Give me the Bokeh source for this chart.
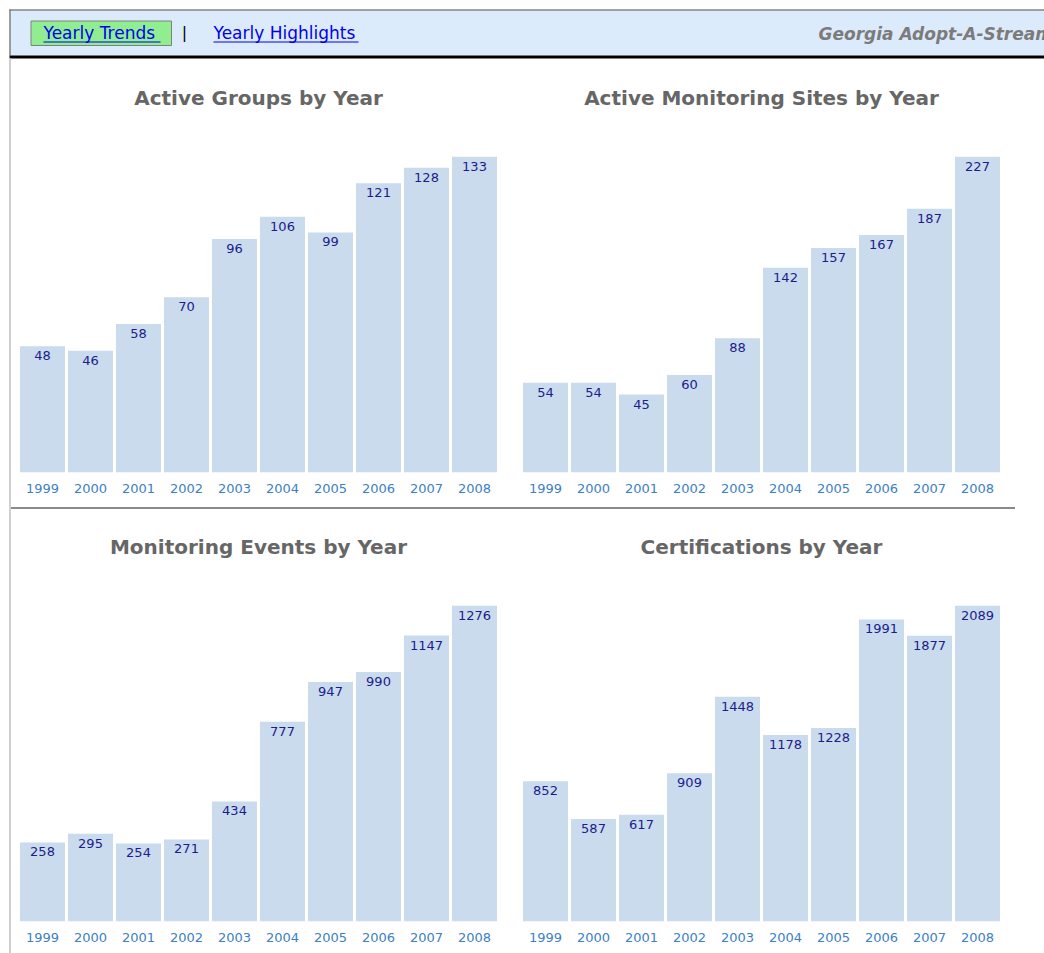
from bokeh.plotting import figure
from bokeh.layouts import row, column
from bokeh.models import Range1d, FactorRange, Spacer, ColumnDataSource, Title
from bokeh.embed import file_html
from bokeh.resources import INLINE
from bokeh.core.properties import value

# ---------------- data ----------------
years = ["1999", "2000", "2001", "2002", "2003", "2004", "2005", "2006", "2007", "2008"]
active_groups = [48, 46, 58, 70, 96, 106, 99, 121, 128, 133]
active_sites = [54, 54, 45, 60, 88, 142, 157, 167, 187, 227]
monitoring_events = [258, 295, 254, 271, 434, 777, 947, 990, 1147, 1276]
certifications = [852, 587, 617, 909, 1448, 1178, 1228, 1991, 1877, 2089]

chart_titles = ["Active Groups by Year", "Active Monitoring Sites by Year",
                "Monitoring Events by Year", "Certifications by Year"]
nav_links = ["Yearly Trends", "Yearly Highlights"]
site_name = "Georgia Adopt-A-Stream"

# ---------------- styles ----------------
BAR = "#c9dbed"
VAL_COLOR = "#1c1c8c"
YEAR_COLOR = "#3d80c4"
TITLE_COLOR = "#666666"
FONT = "DejaVu Sans"


def make_chart(title, vals, width, height, border_right, border_top, border_bottom):
    vmax = max(vals)
    ystart = -vmax * 19.0 / 297.0
    p = figure(x_range=FactorRange(factors=years), y_range=Range1d(ystart, vmax),
               width=width, height=height, title=None,
               min_border_left=7, min_border_right=border_right,
               min_border_top=border_top, min_border_bottom=border_bottom,
               y_axis_location=None, output_backend="svg", toolbar_location=None,
               outline_line_color=None, background_fill_color="white",
               border_fill_color="white")
    src = ColumnDataSource(dict(x=years, top=vals, bottom=[ystart] * len(vals),
                                label=[str(v) for v in vals]))
    p.vbar(x="x", top="top", bottom="bottom", width=0.9375, source=src,
           fill_color=BAR, line_color=None)
    p.text(x="x", y="top", text="label", source=src, text_align="center",
           text_baseline="top", y_offset=5, text_font=value(FONT),
           text_font_size="13px", text_color=VAL_COLOR)
    # invisible spacer between title and bars
    gap = Title(text=" ", text_font_size="1px", standoff=43, text_color="white")
    p.add_layout(gap, "above")
    t = Title(text=title, align="center", standoff=2, text_font=FONT,
              text_font_size="20px", text_font_style="bold", text_color=TITLE_COLOR)
    p.add_layout(t, "above")
    ax = p.xaxis[0]
    ax.axis_line_color = None
    ax.major_tick_line_color = None
    ax.minor_tick_line_color = None
    ax.major_tick_out = 0
    ax.major_tick_in = 0
    ax.major_label_standoff = 11
    ax.major_label_text_font = FONT
    ax.major_label_text_font_size = "13px"
    ax.major_label_text_color = YEAR_COLOR
    p.xgrid.grid_line_color = None
    p.ygrid.grid_line_color = None
    return p


# ---------------- header ----------------
header = figure(width=1044, height=60, x_range=Range1d(0, 1044), y_range=Range1d(60, 0),
                min_border=0, x_axis_location=None, y_axis_location=None,
                output_backend="svg", toolbar_location=None, outline_line_color=None,
                background_fill_color="white", border_fill_color="white")
header.grid.visible = False
header.quad(left=[9], right=[1044], top=[9], bottom=[55], fill_color="#dcebfb", line_color=None)
header.segment(x0=[9], y0=[9.5], x1=[1044], y1=[9.5], line_color="#555555", line_width=1.2)
header.segment(x0=[9.5], y0=[9], x1=[9.5], y1=[55], line_color="#666666", line_width=1.2)
header.quad(left=[9], right=[1044], top=[55], bottom=[58], fill_color="black", line_color=None)
header.quad(left=[9], right=[11], top=[58], bottom=[60], fill_color="#cfcfcf", line_color=None)
header.quad(left=[30.5], right=[171], top=[20.5], bottom=[45], fill_color="#90ee90",
            line_color="#808080", line_width=1)
header.text(x=[43, 213], y=[32, 32], text=nav_links, text_baseline="middle",
            text_font=value(FONT), text_font_size="17px", text_color="#0000ee")
header.segment(x0=[43, 213], y0=[41.5, 41.5], x1=[160, 358], y1=[41.5, 41.5],
               line_color="#0000ee", line_width=1)
header.text(x=[184], y=[32], text=["|"], text_align="center", text_baseline="middle",
            text_font=value(FONT), text_font_size="16px", text_color="black")
header.text(x=[818], y=[33], text=[site_name], text_baseline="middle",
            text_font=value(FONT), text_font_size="17px", text_font_style="bold italic",
            text_color="#7b7b7b")

# ---------------- charts ----------------
c1 = make_chart(chart_titles[0], active_groups, 503, 447, 16, 96, 35)
c2 = make_chart(chart_titles[1], active_sites, 522, 447, 35, 96, 35)
c3 = make_chart(chart_titles[2], monitoring_events, 503, 444, 16, 96, 32)
c4 = make_chart(chart_titles[3], certifications, 522, 444, 35, 96, 32)

sep = Spacer(width=1004, height=2, styles={"background-color": "#8a8a8a"})
body = column(row(c1, c2, spacing=0), sep, row(c3, c4, spacing=0), spacing=0)
edge1 = Spacer(width=9, height=893)
edge2 = Spacer(width=2, height=893, styles={"background-color": "#cfcfcf"})
page = column(header, row(edge1, edge2, body, spacing=0), spacing=0)

open("out.html", "w").write(file_html(page, INLINE, "Georgia Adopt-A-Stream"))
